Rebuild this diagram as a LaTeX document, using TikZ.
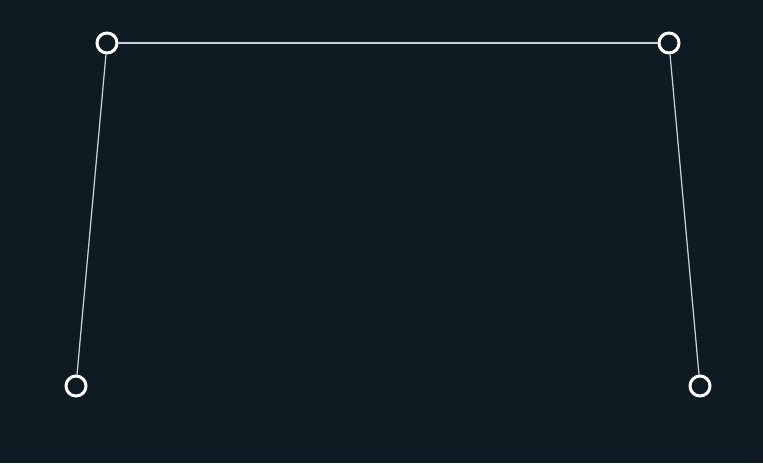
\documentclass[tikz,border=0pt]{standalone}
\usepackage{xcolor}

\definecolor{bgdark}{HTML}{0F1B22}
\definecolor{edgegray}{HTML}{C9D1D6}

\begin{document}
\begin{tikzpicture}[x=0.02cm, y=-0.02cm,
    handle/.style={circle, draw=white, line width=0.06cm, fill=bgdark,
                   inner sep=0pt, minimum size=0.4cm},
    edge/.style={line width=0.025cm, edgegray}]
  % Background
  \fill[bgdark] (0, 0) rectangle (763, 463);
  \useasboundingbox (0, 0) rectangle (763, 463);

  % Handles
  \node[handle] (tl) at (107,  43) {};
  \node[handle] (tr) at (669,  43) {};
  \node[handle] (bl) at ( 76, 386) {};
  \node[handle] (br) at (700, 386) {};

  % Edges
  \draw[edge] (bl) -- (tl);
  \draw[edge] (tl) -- (tr);
  \draw[edge] (tr) -- (br);
\end{tikzpicture}
\end{document}
